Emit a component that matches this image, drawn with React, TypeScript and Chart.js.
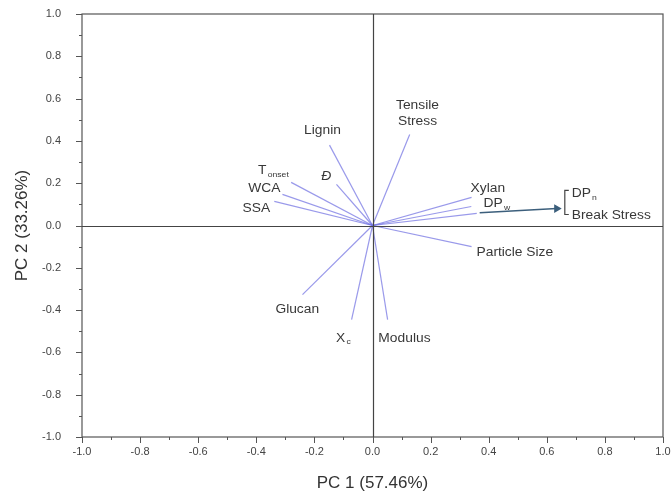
import React, { useEffect, useRef } from "react";
import { Chart, registerables } from "chart.js";

Chart.register(...registerables);

// Loading vectors (PC1, PC2)
const vectorNames = ["Lignin", "D", "Tonset", "WCA", "SSA", "Tensile Stress", "Xylan", "DPw", "DPn / Break Stress", "Particle Size", "Glucan", "Xc", "Modulus"];
const pc1Values = [-0.148, -0.124, -0.28, -0.31, -0.338, 0.128, 0.341, 0.34, 0.359, 0.341, -0.241, -0.072, 0.052];
const pc2Values = [0.38, 0.194, 0.204, 0.147, 0.114, 0.43, 0.133, 0.09, 0.057, -0.1, -0.327, -0.445, -0.445];

// Text labels (main text, subscript, italic, align, anchor x, anchor y in data units)
const labelMain = ["Lignin", "Đ", "T", "WCA", "SSA", "Tensile", "Stress", "Xylan", "DP", "DP", "Break Stress", "Particle Size", "Glucan", "X", "Modulus"];
const labelSub = ["", "", "onset", "", "", "", "", "", "w", "n", "", "", "", "c", ""];
const labelItalic = [false, true, false, false, false, false, false, false, false, false, false, false, false, false, false];
const labelAlign = ["center", "center", "center", "center", "center", "center", "center", "center", "center", "left", "left", "center", "center", "center", "center"];
const labelX = [-0.172, -0.159, -0.341, -0.372, -0.4, 0.155, 0.155, 0.397, 0.428, 0.686, 0.686, 0.49, -0.259, -0.1, 0.11];
const labelY = [0.455, 0.237, 0.265, 0.18, 0.085, 0.573, 0.498, 0.18, 0.109, 0.156, 0.052, -0.123, -0.393, -0.526, -0.526];

// Arrow from the DPn/Break Stress vector tip toward its label
const arrowX = [0.369, 0.634];
const arrowY = [0.06, 0.08];
// Bracket grouping DPn and Break Stress
const bracketX = 0.662;
const bracketY = [0.166, 0.052];

const axisTicks = [-1.0, -0.8, -0.6, -0.4, -0.2, 0.0, 0.2, 0.4, 0.6, 0.8, 1.0];

const FONT = "'Liberation Sans', Arial, sans-serif";
const STRETCH = 1.15;

const overlayPlugin = {
  id: "overlay",
  afterDraw(chart: any) {
    const ctx = chart.ctx as CanvasRenderingContext2D;
    const xs = chart.scales.x;
    const ys = chart.scales.y;
    const area = chart.chartArea;
    ctx.save();
    // frame
    ctx.strokeStyle = "#555";
    ctx.lineWidth = 1.2;
    ctx.strokeRect(area.left, area.top, area.right - area.left, area.bottom - area.top);
    // zero lines
    ctx.strokeStyle = "#444";
    ctx.beginPath();
    const x0 = Math.round(xs.getPixelForValue(0)) + 0.5;
    const y0 = Math.round(ys.getPixelForValue(0)) + 0.5;
    ctx.moveTo(x0, area.top);
    ctx.lineTo(x0, area.bottom);
    ctx.moveTo(area.left, y0);
    ctx.lineTo(area.right, y0);
    ctx.stroke();
    // tick marks (major + minor)
    ctx.strokeStyle = "#555";
    ctx.lineWidth = 1;
    ctx.beginPath();
    for (let i = -10; i <= 10; i++) {
      const v = i / 10;
      const major = i % 2 === 0;
      const len = major ? 6 : 3;
      const px = Math.round(xs.getPixelForValue(v)) + 0.5;
      ctx.moveTo(px, area.bottom);
      ctx.lineTo(px, area.bottom + len);
      const py = Math.round(ys.getPixelForValue(v)) + 0.5;
      ctx.moveTo(area.left, py);
      ctx.lineTo(area.left - len, py);
    }
    ctx.stroke();
    // bracket
    const bx = xs.getPixelForValue(bracketX);
    const bt = ys.getPixelForValue(bracketY[0]);
    const bb = ys.getPixelForValue(bracketY[1]);
    ctx.strokeStyle = "#444";
    ctx.lineWidth = 1.2;
    ctx.beginPath();
    ctx.moveTo(bx + 4, bt);
    ctx.lineTo(bx, bt);
    ctx.lineTo(bx, bb);
    ctx.lineTo(bx + 4, bb);
    ctx.stroke();
    // labels
    ctx.fillStyle = "#383838";
    ctx.textBaseline = "middle";
    for (let i = 0; i < labelMain.length; i++) {
      const mainFont = (labelItalic[i] ? "italic " : "") + "12px " + FONT;
      const subFont = "7.5px " + FONT;
      ctx.font = mainFont;
      const wMain = ctx.measureText(labelMain[i]).width;
      ctx.font = subFont;
      const wSub = labelSub[i] ? ctx.measureText(labelSub[i]).width + 1 : 0;
      const total = (wMain + wSub) * STRETCH;
      const ax = xs.getPixelForValue(labelX[i]);
      const ay = ys.getPixelForValue(labelY[i]) + 1.5;
      const startX = labelAlign[i] === "left" ? ax : ax - total / 2;
      ctx.save();
      ctx.translate(startX, ay);
      ctx.scale(STRETCH, 1);
      ctx.textAlign = "left";
      ctx.font = mainFont;
      ctx.fillText(labelMain[i], 0, 0);
      if (labelSub[i]) {
        ctx.font = subFont;
        ctx.fillText(labelSub[i], wMain + 1, 4);
      }
      ctx.restore();
    }
    ctx.restore();
  },
};

export default function App() {
  const ref = useRef<HTMLCanvasElement | null>(null);
  useEffect(() => {
    document.body.style.margin = "0";
    const datasets: any[] = vectorNames.map((name, i) => ({
      label: name,
      data: [
        { x: 0, y: 0 },
        { x: pc1Values[i], y: pc2Values[i] },
      ],
      showLine: true,
      borderColor: "rgba(110,110,225,0.7)",
      borderWidth: 1.2,
      pointRadius: 0,
    }));
    datasets.push({
      label: "arrow",
      data: [
        { x: arrowX[0], y: arrowY[0] },
        { x: arrowX[1], y: arrowY[1] },
      ],
      showLine: true,
      borderColor: "#3c5f7c",
      backgroundColor: "#3c5f7c",
      borderWidth: 1.5,
      pointRadius: [0, 3.5],
      pointStyle: "triangle",
      pointRotation: [0, 90],
    });
    const chart = new Chart(ref.current!, {
      type: "scatter",
      data: { datasets },
      options: {
        animation: false,
        responsive: false,
        maintainAspectRatio: false,
        layout: { padding: { top: 14, right: 9, left: 8, bottom: 4 } },
        plugins: { legend: { display: false }, tooltip: { enabled: false } },
        scales: {
          x: {
            type: "linear",
            min: -1,
            max: 1,
            afterBuildTicks: (s: any) => {
              s.ticks = axisTicks.map((v) => ({ value: v }));
            },
            afterFit: (s: any) => {
              s.height = 61;
              s.paddingLeft = 0;
              s.paddingRight = 0;
            },
            grid: { display: false, drawTicks: false },
            border: { display: false },
            ticks: {
              padding: 8,
              color: "#444",
              font: { family: FONT, size: 11 },
              callback: (v: any) => Number(v).toFixed(1),
              maxRotation: 0,
            },
            title: {
              display: true,
              text: "PC 1 (57.46%)",
              color: "#333",
              font: { family: FONT, size: 17 },
              padding: { top: 6 },
            },
          },
          y: {
            type: "linear",
            min: -1,
            max: 1,
            afterBuildTicks: (s: any) => {
              s.ticks = axisTicks.map((v) => ({ value: v }));
            },
            afterFit: (s: any) => {
              s.width = 74;
              s.paddingTop = 0;
              s.paddingBottom = 0;
            },
            grid: { display: false, drawTicks: false },
            border: { display: false },
            ticks: {
              padding: 21,
              color: "#444",
              font: { family: FONT, size: 11 },
              callback: (v: any) => Number(v).toFixed(1),
            },
            title: {
              display: true,
              text: "PC 2 (33.26%)",
              color: "#333",
              font: { family: FONT, size: 17 },
              padding: { bottom: 8 },
            },
          },
        },
      },
      plugins: [overlayPlugin],
    });
    return () => chart.destroy();
  }, []);
  return (
    <div style={{ width: 672, height: 502 }}>
      <canvas ref={ref} width={672} height={502} style={{ display: "block", width: 672, height: 502 }} />
    </div>
  );
}
